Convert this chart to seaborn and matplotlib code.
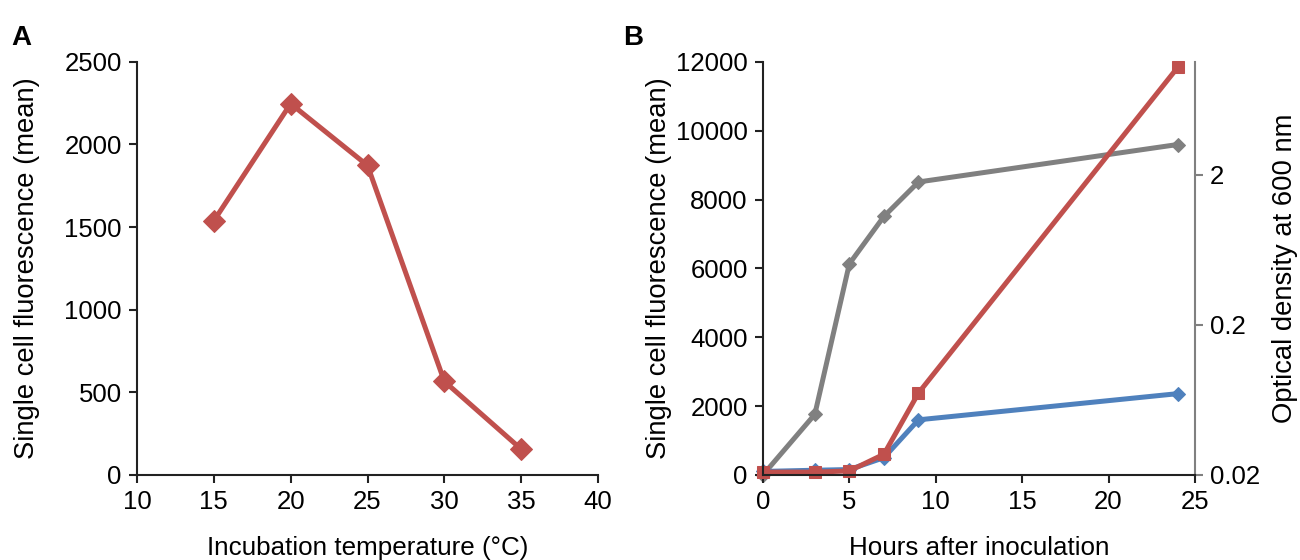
import numpy as np
import pandas as pd
import seaborn as sns
import matplotlib.pyplot as plt
from matplotlib.ticker import FixedLocator, NullLocator

# panel A: temperature series
temp = [15, 20, 25, 30, 35]
fluor_temp = [1538, 2247, 1873, 566, 156]

# panel B: time course
hours = [0, 3, 5, 7, 9, 24]
fluor_blue = [100, 135, 155, 500, 1600, 2360]
fluor_red = [80, 80, 115, 600, 2380, 11840]
od600 = [0.02, 0.0506, 0.51, 1.055, 1.79, 3.18]

red = '#C0504D'
blue = '#4F81BD'
grey = '#808080'

sns.set_style('ticks')
plt.rcParams['font.family'] = ['Liberation Sans', 'DejaVu Sans']
plt.rcParams['text.color'] = 'black'
plt.rcParams['axes.labelcolor'] = 'black'
plt.rcParams['xtick.color'] = 'black'
plt.rcParams['ytick.color'] = 'black'

fig = plt.figure(figsize=(13, 5.6), dpi=100)
axA = fig.add_axes([0.1054, 0.152, 0.3546, 0.7375])
axB = fig.add_axes([0.5869, 0.152, 0.3323, 0.7375])

lw = 3.6
tick_fs = 18.5
xlab_fs = 18.7
ylab_fs = 19.7

def excel_axes(ax):
    for s in ['top', 'right']:
        ax.spines[s].set_visible(False)
    for s in ['left', 'bottom']:
        ax.spines[s].set_color('#222222')
        ax.spines[s].set_linewidth(1.5)
    ax.tick_params(direction='out', length=6, width=1.5, color='#222222',
                   labelsize=tick_fs, pad=5)

# A
sns.lineplot(x=temp, y=fluor_temp, ax=axA, color=red, marker='D',
             markersize=11, markeredgecolor=red, linewidth=lw)
axA.set_xlim(10, 40)
axA.set_ylim(0, 2500)
axA.set_xticks(range(10, 41, 5))
axA.set_yticks(range(0, 2501, 500))
excel_axes(axA)
axA.set_xlabel('Incubation temperature (°C)', fontsize=xlab_fs)
axA.set_ylabel('Single cell fluorescence (mean)', fontsize=ylab_fs)
axA.xaxis.set_label_coords(0.5, -0.148)
axA.yaxis.set_label_coords(-0.21, 0.5)
fig.text(0.009, 0.92, 'A', fontsize=20, fontweight='bold')

# B
axR = axB.twinx()
sns.lineplot(x=hours, y=od600, ax=axR, color=grey, marker='D',
             markersize=7, markeredgecolor=grey, linewidth=lw, clip_on=False)
axR.set_yscale('log')
axR.set_ylim(0.02, 11.3)
axR.yaxis.set_major_locator(FixedLocator([0.02, 0.2, 2]))
axR.yaxis.set_minor_locator(NullLocator())
axR.set_yticklabels(['0.02', '0.2', '2'])
for s in ['top', 'left', 'bottom']:
    axR.spines[s].set_visible(False)
axR.spines['right'].set_color(grey)
axR.spines['right'].set_linewidth(1.5)
axR.tick_params(direction='out', length=6, width=1.5, color=grey,
                labelsize=tick_fs, pad=5)
axR.set_ylabel('Optical density at 600 nm', fontsize=ylab_fs)
axR.yaxis.set_label_coords(1.178, 0.5)

sns.lineplot(x=hours, y=fluor_blue, ax=axB, color=blue, marker='D',
             markersize=7, markeredgecolor=blue, linewidth=lw, clip_on=False)
sns.lineplot(x=hours, y=fluor_red, ax=axB, color=red, marker='s',
             markersize=8.5, markeredgecolor=red, linewidth=lw, clip_on=False)
axB.set_zorder(axR.get_zorder() + 1)
axB.patch.set_visible(False)
axB.set_xlim(0, 25)
axB.set_ylim(0, 12000)
axB.set_xticks(range(0, 26, 5))
axB.set_yticks(range(0, 12001, 2000))
excel_axes(axB)
axB.set_xlabel('Hours after inoculation', fontsize=xlab_fs)
axB.set_ylabel('Single cell fluorescence (mean)', fontsize=ylab_fs)
axB.xaxis.set_label_coords(0.5, -0.148)
axB.yaxis.set_label_coords(-0.21, 0.5)
fig.text(0.479, 0.92, 'B', fontsize=20, fontweight='bold')

fig.savefig('out.png', dpi=100, facecolor='white')
